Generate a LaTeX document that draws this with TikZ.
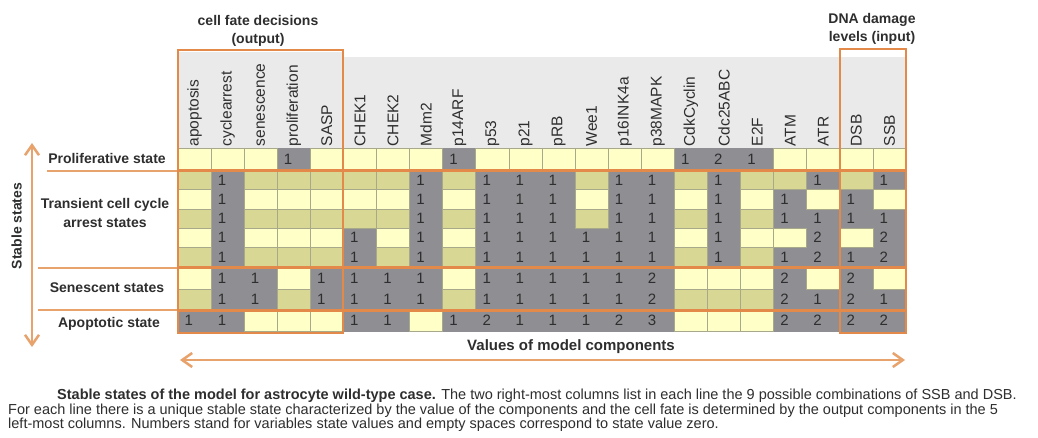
\documentclass[tikz,border=0pt]{standalone}
\usepackage{fontspec}
\setmainfont{Liberation Sans}
\usetikzlibrary{arrows.meta}

\definecolor{lightcell}{HTML}{FFFFC8}
\definecolor{olivecell}{HTML}{D8D894}
\definecolor{graycell}{HTML}{8E8E93}
\definecolor{cellline}{HTML}{A8A88A}
\definecolor{headfill}{HTML}{EAEAEA}
\definecolor{boxorange}{HTML}{E38A4A}
\definecolor{arroworange}{HTML}{E8A26C}
\definecolor{ink}{HTML}{2E2E2E}

\tikzset{
  lbl/.style={font=\fontsize{14}{16}\selectfont\bfseries, text=ink, inner sep=0pt, anchor=base},
  hdrtext/.style={font=\fontsize{15.5}{17}\selectfont, text=ink, inner sep=0pt, rotate=90, anchor=west},
  numtext/.style={font=\fontsize{15}{17}\selectfont, text=ink, inner sep=0pt, anchor=west},
  captext/.style={font=\fontsize{14.5}{16}\selectfont, text=ink, inner sep=0pt, anchor=base west},
  fatebox/.style={draw=boxorange, line width=2pt},
  groupline/.style={draw=boxorange, line width=3pt},
  sideline/.style={draw=arroworange, line width=2pt},
  axisarrow/.style={draw=arroworange, line width=2.5pt,
    {Straight Barb[length=10pt,width=14pt]}-{Straight Barb[length=10pt,width=14pt]}},
}

\begin{document}
\begin{tikzpicture}[x=1pt,y=-1pt]
\useasboundingbox[fill=white] (0,0) rectangle (1038,437);

% heading band behind the rotated column names
\fill[headfill] (178,52) rectangle (343.45,148);
\fill[headfill] (343.45,57) rectangle (906,148);

% column names
\foreach \name [count=\c] in {apoptosis,cyclearrest,senescence,proliferation,SASP,
    CHEK1,CHEK2,Mdm2,p14ARF,p53,p21,pRB,Wee1,p16INK4a,p38MAPK,
    CdkCyclin,Cdc25ABC,E2F,ATM,ATR,DSB,SSB} {
  \node[hdrtext] (head\c) at ({178+(\c-0.5)*33.0909},146.5) {\name};
}

% grid: grey base, zero-valued cells painted yellow on top
\fill[graycell] (178,148) rectangle (906,331.5);
\foreach \vals [count=\r] in {
  {0,0,0,1,0, 0,0,0,1,0,0,0,0,0,0, 1,2,1, 0,0, 0,0},
  {0,1,0,0,0, 0,0,1,0,1,1,1,0,1,1, 0,1,0, 0,1, 0,1},
  {0,1,0,0,0, 0,0,1,0,1,1,1,0,1,1, 0,1,0, 1,0, 1,0},
  {0,1,0,0,0, 0,0,1,0,1,1,1,0,1,1, 0,1,0, 1,1, 1,1},
  {0,1,0,0,0, 1,0,1,0,1,1,1,1,1,1, 0,1,0, 0,2, 0,2},
  {0,1,0,0,0, 1,0,1,0,1,1,1,1,1,1, 0,1,0, 1,2, 1,2},
  {0,1,1,0,1, 1,1,1,0,1,1,1,1,1,2, 0,0,0, 2,0, 2,0},
  {0,1,1,0,1, 1,1,1,0,1,1,1,1,1,2, 0,0,0, 2,1, 2,1},
  {1,1,0,0,0, 1,1,0,1,2,1,1,1,2,3, 0,0,0, 2,2, 2,2}} {
  \pgfmathsetmacro\yt{{148,170.5,189.7,208.9,228.1,247.3,267.5,289,310}[\r-1]}
  \pgfmathsetmacro\yb{{170.5,189.7,208.9,228.1,247.3,267.5,289,310,331.5}[\r-1]}
  \pgfmathtruncatemacro\sh{{0,1,0,1,0,1,0,1,0}[\r-1]}
  \foreach \v [count=\c] in \vals {
    \pgfmathsetmacro\xl{178+(\c-1)*33.0909}
    \pgfmathsetmacro\xr{178+\c*33.0909}
    \ifnum\v=0\relax
      \ifnum\sh=1\relax\def\cellcol{olivecell}\else\def\cellcol{lightcell}\fi
      \filldraw[fill=\cellcol, draw=cellline, line width=0.8pt] (\xl,\yt) rectangle (\xr,\yb);
    \else
      \node[numtext] (v\r-\c) at ({\xl+6.5},{(\yt+\yb)/2}) {\v};
    \fi
  }
}

% separators between groups of states
\draw[sideline] (47,170.5) -- (178,170.5);
\draw[sideline] (38,267.5) -- (178,267.5);
\draw[sideline] (38,310) -- (178,310);
\draw[groupline] (178,170.5) -- (906,170.5);
\draw[groupline] (178,267.5) -- (906,267.5);
\draw[groupline] (178,310) -- (906,310);

% output and input column frames
\draw[fatebox] (178,50) rectangle (343.45,332.5);
\draw[fatebox] (839.8,49) rectangle (906,332.5);

% frame titles
\node[lbl] (outtitle1) at (258,25) {cell fate decisions};
\node[lbl] (outtitle2) at (258,43) {(output)};
\node[lbl] (intitle1) at (872,23.5) {DNA damage};
\node[lbl] (intitle2) at (872,41) {levels (input)};

% state group labels
\node[lbl] (lprolif) at (107,163) {Proliferative state};
\node[lbl] (ltrans1) at (105,208) {Transient cell cycle};
\node[lbl] (ltrans2) at (105,227.5) {arrest states};
\node[lbl] (lsen) at (107,292) {Senescent states};
\node[lbl] (lapo) at (109,327) {Apoptotic state};

% axes
\coordinate (vtop) at (32,143);
\coordinate (vbot) at (32,347);
\draw[axisarrow] (vtop) -- (vbot);
\node[lbl, anchor=center, rotate=90] (lstable) at (16.5,226) {Stable states};

\coordinate (hleft) at (180,360);
\coordinate (hright) at (905,360);
\draw[axisarrow] (hleft) -- (hright);
\node[lbl, font=\fontsize{15}{17}\selectfont\bfseries] (lvalues) at (571,350) {Values of model components};

% caption
\node[captext] (cap1) at (57,399) {\textbf{Stable states of the model for astrocyte wild-type case.} The two right-most columns list in each line the 9 possible combinations of SSB and DSB.};
\node[captext] (cap2) at (8,414) {For each line there is a unique stable state characterized by the value of the components and the cell fate is determined by the output components in the 5};
\node[captext] (cap3) at (8,428) {left-most columns. Numbers stand for variables state values and empty spaces correspond to state value zero.};
\end{tikzpicture}
\end{document}
